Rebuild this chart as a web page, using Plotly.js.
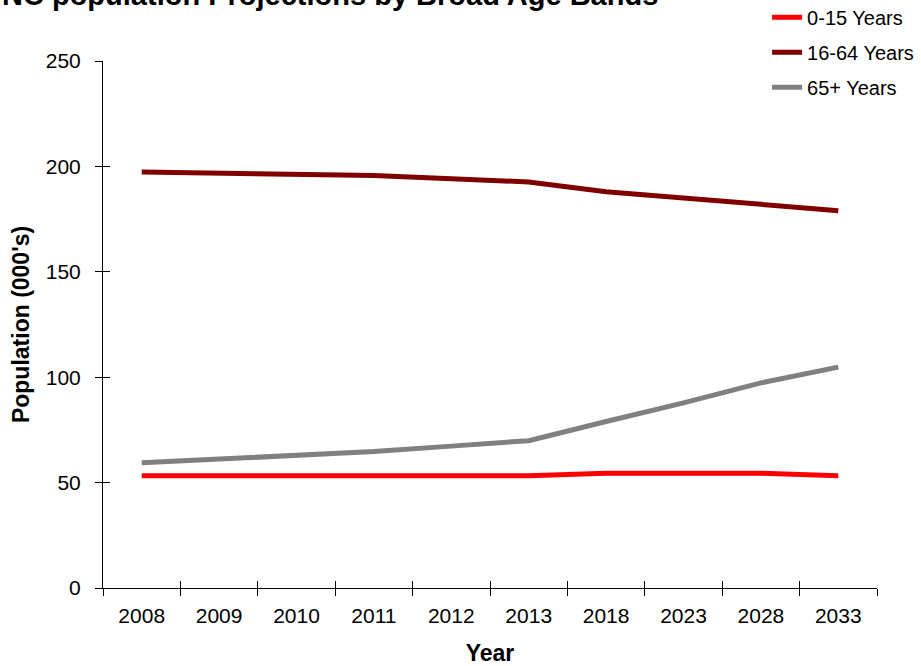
<!DOCTYPE html>
<html>
<head>
<meta charset="utf-8">
<script src="https://cdn.plot.ly/plotly-3.0.1.min.js"></script>
<style>html,body{margin:0;padding:0;background:#fff;}#chart{width:921px;height:666px;}</style>
</head>
<body>
<div id="chart"></div>
<script>
var years = ["2008","2009","2010","2011","2012","2013","2018","2023","2028","2033"];
var age0to15 = [53.3, 53.3, 53.3, 53.3, 53.3, 53.3, 54.4, 54.4, 54.4, 53.3];
var age16to64 = [197.3, 196.6, 195.9, 195.7, 194.2, 192.6, 188.0, 185.0, 182.3, 179.0];
var age65plus = [59.4, 61.2, 63.0, 64.7, 67.3, 69.9, 79.0, 87.8, 97.3, 104.8];
var seriesNames = ["0-15 Years", "16-64 Years", "65+ Years"];
var yTicks = [0, 50, 100, 150, 200, 250];
var titleText = "NC population Projections by Broad Age Bands";

var fontFam = "Liberation Sans, Arial, sans-serif";
function mk(y, name, color, grp) {
  return {x: years, y: y, name: name, type: "scatter", mode: "lines",
    line: {color: color, width: 5}, legendgroup: grp, cliponaxis: false};
}
var data = [
  mk(age0to15, seriesNames[0], "#FF0000", "a"),
  mk(age16to64, seriesNames[1], "#800000", "b"),
  mk(age65plus, seriesNames[2], "#808080", "c"),
  {x: years, y: age0to15, yaxis: "y2", xaxis: "x2", type: "scatter", mode: "lines",
   line: {width: 0}, showlegend: false, hoverinfo: "skip", opacity: 0}
];
var layout = {
  width: 921, height: 666,
  margin: {l: 103, r: 44, t: 61, b: 78, autoexpand: false},
  paper_bgcolor: "#fff", plot_bgcolor: "#fff",
  font: {family: fontFam, size: 21, color: "#000"},
  showlegend: true,
  legend: {x: 0.858, xanchor: "left", y: 1.12, yanchor: "top",
    font: {family: fontFam, size: 20, color: "#000"}, tracegroupgap: 6,
    bgcolor: "rgba(0,0,0,0)"},
  xaxis: {type: "category", range: [-0.5, 9.5], tickson: "boundaries",
    ticks: "outside", ticklen: 7, tickcolor: "#000", tickwidth: 1,
    showline: true, linecolor: "#000", linewidth: 1, showgrid: false, zeroline: false,
    tickfont: {family: fontFam, size: 21}, ticklabelstandoff: 9,
    title: {text: "<b>Year</b>", font: {family: fontFam, size: 23}, standoff: 20}},
  xaxis2: {overlaying: "x", type: "category", range: [-0.5, 9.5], tickson: "boundaries",
    ticks: "inside", ticklen: 7, tickcolor: "#000", showticklabels: false,
    showline: false, showgrid: false, zeroline: false, matches: "x", anchor: "y2", side: "bottom"},
  yaxis: {range: [0, 250], tickvals: yTicks, ticks: "outside", ticklen: 7,
    tickcolor: "#000", showline: true, linecolor: "#000", linewidth: 1,
    showgrid: false, zeroline: false, tickfont: {family: fontFam, size: 21},
    ticklabelstandoff: 10,
    title: {text: "<b>Population (000's)</b>", font: {family: fontFam, size: 23}, standoff: 9}},
  yaxis2: {overlaying: "y", range: [0, 250], tickvals: yTicks, ticks: "inside", ticklen: 7,
    tickcolor: "#000", showticklabels: false, showline: false, showgrid: false,
    zeroline: false, anchor: "x2", side: "left"},
  annotations: [{text: "<b>" + titleText + "</b>", xref: "paper", yref: "paper",
    x: 0.72, xanchor: "right", y: 1, yanchor: "middle", yshift: 66,
    showarrow: false, font: {family: fontFam, size: 29, color: "#000"}}]
};
Plotly.newPlot("chart", data, layout, {displayModeBar: false, staticPlot: true});
</script>
</body>
</html>
